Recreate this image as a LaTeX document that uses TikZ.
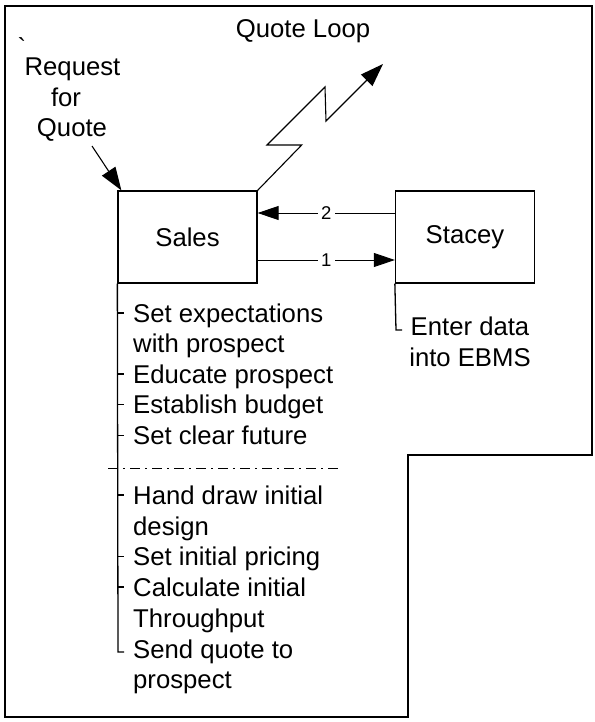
\documentclass[tikz,border=0pt]{standalone}
\usepackage{fontspec}
\setmainfont{Liberation Sans}
\newfontfamily\rawsans{Liberation Sans}[Ligatures=ResetAll]
\usetikzlibrary{arrows.meta}
\begin{document}
\begin{tikzpicture}[x=1pt,y=-1pt,
  every node/.style={font=\fontsize{25.7}{30.7}\selectfont, inner sep=0pt},
  frame/.style={line width=1.3pt},
  actor/.style={draw, line width=1.3pt, minimum width=139pt, minimum height=92pt},
  link/.style={line width=0.9pt, -{Triangle[length=21pt,width=14pt]}},
  biglink/.style={line width=1.1pt, -{Triangle[length=23pt,width=16pt]}},
  flowlabel/.style={fill=white, inner sep=3.5pt, font=\fontsize{18.5}{21}\selectfont},
  bracket/.style={line width=1.3pt},
  separator/.style={line width=1pt, dash pattern=on 10pt off 5pt on 2pt off 5pt},
  item/.style={anchor=base west},
  caption/.style={anchor=base}]
\useasboundingbox (0,0) rectangle (594,722);

% outer frame
\draw[frame] (5,6) -- (592,6) -- (592,455) -- (408,455) -- (408,717) -- (5,717) -- cycle;

% title and incoming request
\node[caption] (loop) at (303,38) {Quote Loop};
\node (tick) at (22,47) {\rawsans\char"60};
\node[caption] (req1) at (72.5,76) {Request};
\node[caption] (req2) at (66,106.5) {for};
\node[caption] (req3) at (72,137) {Quote};

% actors
\node[actor] (sales) at (187.5,237) {Sales};
\node[actor] (stacey) at (465,237) {Stacey};

\coordinate (reqstart) at (92,146);
\draw[biglink] (reqstart) -- ([xshift=4pt]sales.north west);

% lightning link
\draw[biglink] (sales.north east) -- (301.7,145) -- (267,145) -- (325,87) -- (326,121) -- (383,64);

% exchange between the actors
\draw[link] ([yshift=24pt]stacey.west) -- node[flowlabel] (n2) {2} ([yshift=24pt]sales.east);
\draw[link] ([yshift=-23pt]sales.east) -- node[flowlabel] (n1) {1} ([yshift=-23pt]stacey.west);

% Stacey's task
\coordinate (sbend) at (396,330);
\draw[bracket] (stacey.south west) -- (sbend) -- ++(6,0);
\node[caption] (st1) at (470,335) {Enter data};
\node[caption] (st2) at (470,366) {into EBMS};

% Sales task list
\coordinate (lend) at (118,652);
\draw[bracket] (sales.south west) -- (lend) -- ++(6,0);
\foreach \b in {322,383,413.7,444.5,504,565.5,596}
  \draw[bracket] (118,{\b-9}) -- (124,{\b-9});

\foreach \t/\b [count=\i] in {Set expectations/322, with prospect/352.7,
    Educate prospect/383, Establish budget/413.7, Set clear future/444.5,
    Hand draw initial/504, design/535, Set initial pricing/565.5,
    Calculate initial/596, Throughput/627, Send quote to/658, prospect/688.5}
  \node[item] (task\i) at (133,\b) {\t};

\coordinate (sepa) at (108,468);
\coordinate (sepb) at (340,468);
\draw[separator] (sepa) -- (sepb);
\end{tikzpicture}
\end{document}
